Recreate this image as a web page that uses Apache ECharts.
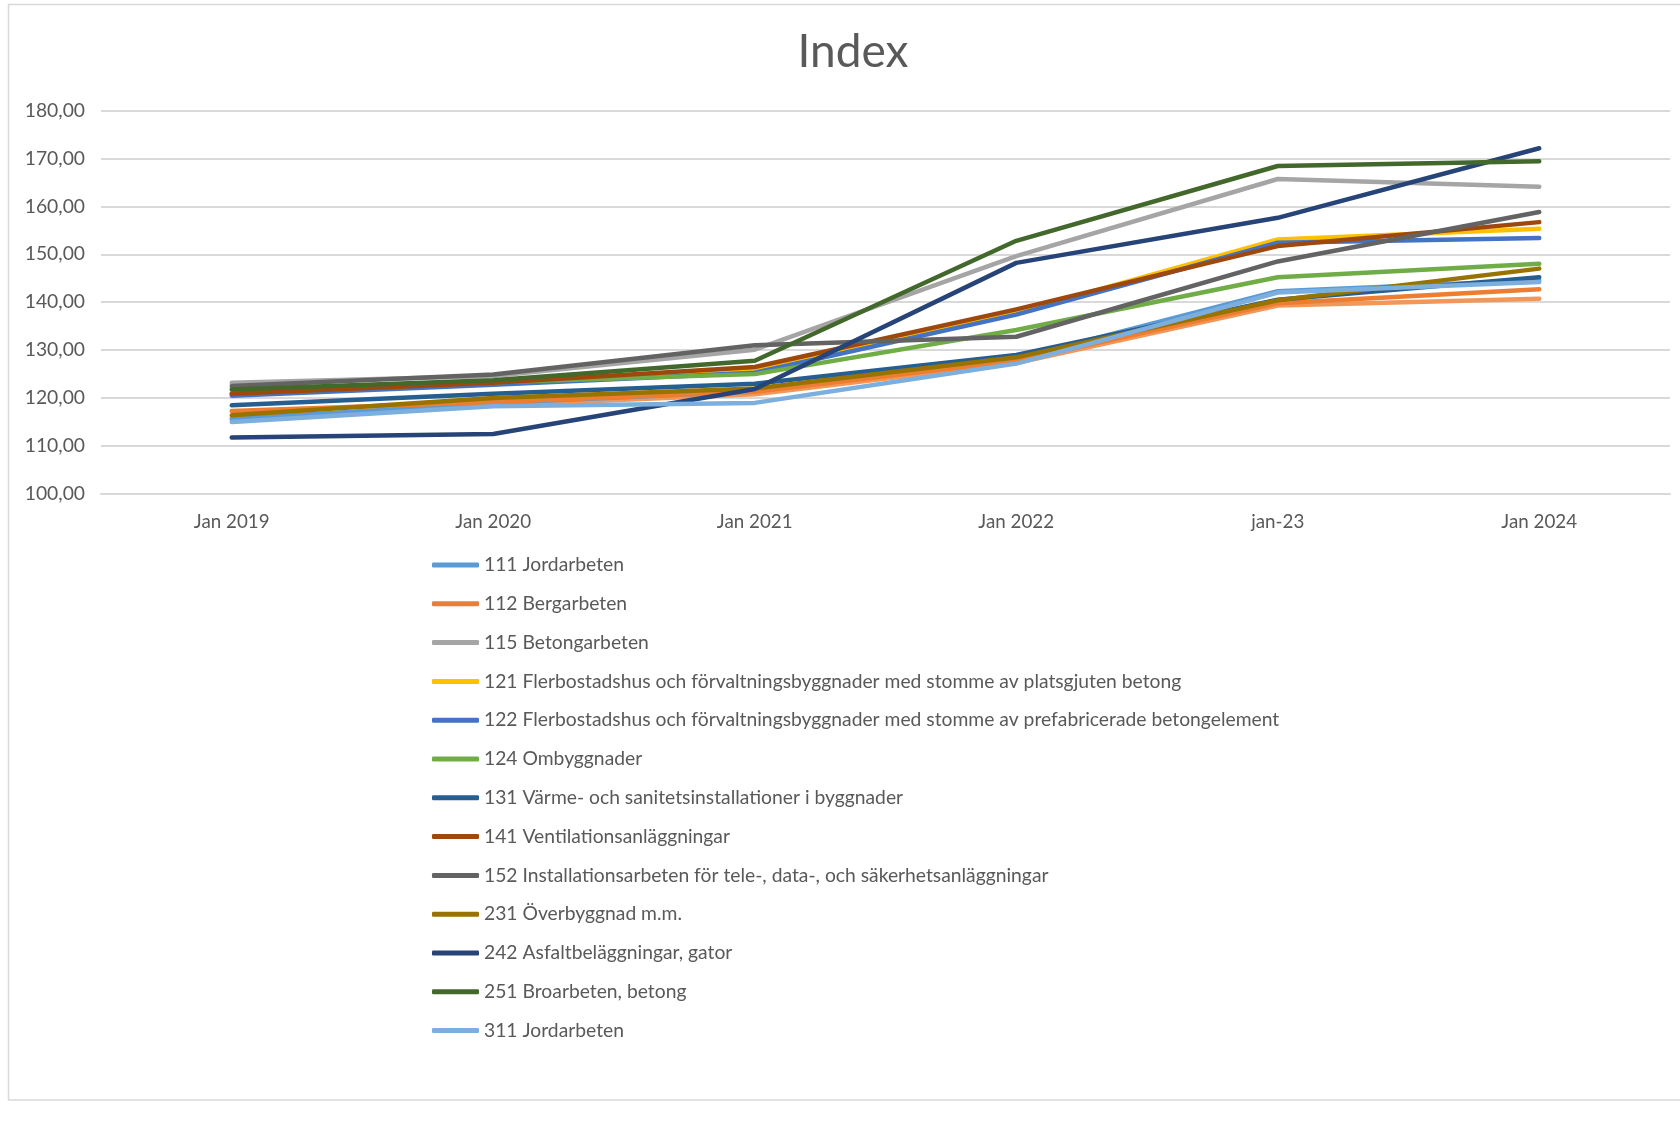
<!DOCTYPE html>
<html>
<head>
<meta charset="utf-8">
<script src="https://cdn.jsdelivr.net/npm/echarts@6/dist/echarts.min.js"></script>
<style>
html,body{margin:0;padding:0;background:#fff;}
#chart{width:1680px;height:1122px;}
</style>
</head>
<body>
<div id="chart"></div>
<script>
// Categories (x axis)
const categories = ['Jan 2019', 'Jan 2020', 'Jan 2021', 'Jan 2022', 'jan-23', 'Jan 2024'];

// Series names
const names = [
  '111 Jordarbeten',
  '112 Bergarbeten',
  '115 Betongarbeten',
  '121 Flerbostadshus och förvaltningsbyggnader med stomme av platsgjuten betong',
  '122 Flerbostadshus och förvaltningsbyggnader med stomme av prefabricerade betongelement',
  '124 Ombyggnader',
  '131 Värme- och sanitetsinstallationer i byggnader',
  '141 Ventilationsanläggningar',
  '152 Installationsarbeten för tele-, data-, och säkerhetsanläggningar',
  '231 Överbyggnad m.m.',
  '242 Asfaltbeläggningar, gator',
  '251 Broarbeten, betong',
  '311 Jordarbeten'
];

// Series values (index values per category)
const s111 = [115.6, 119.0, 121.4, 128.2, 142.3, 144.6];
const s112 = [117.3, 119.2, 121.3, 127.8, 139.8, 142.7];
const s115 = [123.2, 124.6, 130.1, 149.6, 165.7, 164.1];
const s121 = [120.8, 123.0, 125.8, 137.8, 153.1, 155.3];
const s122 = [120.5, 122.8, 125.3, 137.4, 152.4, 153.4];
const s124 = [121.0, 123.3, 125.0, 134.2, 145.2, 148.0];
const s131 = [118.5, 120.9, 123.0, 129.0, 140.5, 145.2];
const s141 = [120.9, 123.2, 126.5, 138.5, 151.7, 156.7];
const s152 = [122.5, 124.9, 131.0, 132.8, 148.5, 158.8];
const s231 = [116.4, 120.0, 122.0, 128.5, 140.4, 147.0];
const s242 = [111.8, 112.5, 121.9, 148.2, 157.6, 172.1];
const s251 = [121.8, 123.7, 127.8, 152.8, 168.4, 169.4];
const s311 = [115.0, 118.3, 119.0, 127.2, 142.0, 144.2];
// extra series drawn in the chart without a legend entry (light orange)
const sExtra = [115.8, 118.5, 120.8, 127.3, 139.3, 140.7];

const seriesValues = [s111, s112, s115, s121, s122, s124, s131, s141, s152, s231, s242, s251, s311];

const colors = ['#5B9BD5', '#ED7D31', '#A5A5A5', '#FFC000', '#4472C4', '#70AD47',
                '#255E91', '#9E480E', '#636363', '#997300', '#264478', '#43682B', '#7CAFDD'];

// Y axis tick labels
const yMin = 100, yMax = 180, yStep = 10;

const FONT = 'Lato, "Liberation Sans", sans-serif';
const TXT = '#595959';

const series = [];
series.push({
  name: '_extra', type: 'line', data: sExtra, symbol: 'none',
  lineStyle: {width: 4.5, color: '#F1975A', cap: 'round', join: 'round'},
  color: '#F1975A', z: 2
});
names.forEach((n, i) => {
  series.push({
    name: n, type: 'line', data: seriesValues[i], symbol: 'none',
    lineStyle: {width: 4.5, color: colors[i], cap: 'round', join: 'round'},
    color: colors[i], z: 3
  });
});

const chart = echarts.init(document.getElementById('chart'), null, {renderer: 'canvas'});
chart.setOption({
  animation: false,
  backgroundColor: '#fff',
  title: {
    text: 'Index', left: 848, top: 24, textAlign: 'center',
    textStyle: {fontFamily: FONT, fontSize: 46, fontWeight: 'normal', color: TXT}
  },
  graphic: [{
    type: 'rect', shape: {x: 8.5, y: 4.5, width: 1700, height: 1095.5},
    style: {fill: 'none', stroke: '#d9d9d9', lineWidth: 1.5}, silent: true, z: -1
  }],
  grid: {left: 101, right: 10, top: 110.4, bottom: 628, containLabel: false},
  xAxis: {
    type: 'category', data: categories, boundaryGap: true,
    axisLine: {show: true, lineStyle: {color: '#d9d9d9', width: 2}},
    axisTick: {show: false},
    axisLabel: {color: TXT, fontFamily: FONT, fontSize: 18.8, margin: 18}
  },
  yAxis: {
    type: 'value', min: yMin, max: yMax, interval: yStep,
    axisLine: {show: false}, axisTick: {show: false},
    splitLine: {lineStyle: {color: '#d9d9d9', width: 2}},
    axisLabel: {
      color: TXT, fontFamily: FONT, fontSize: 19.3, margin: 16,
      formatter: v => v.toFixed(2).replace('.', ',')
    }
  },
  legend: {
    orient: 'vertical', left: 427, top: 549,
    data: names.map((n, i) => ({name: n, icon: 'roundRect', itemStyle: {color: colors[i]}})),
    itemWidth: 47, itemHeight: 5, itemGap: 16.8,
    textStyle: {color: TXT, fontFamily: FONT, fontSize: 19.3, lineHeight: 22}
  },
  series: series
});
</script>
</body>
</html>
